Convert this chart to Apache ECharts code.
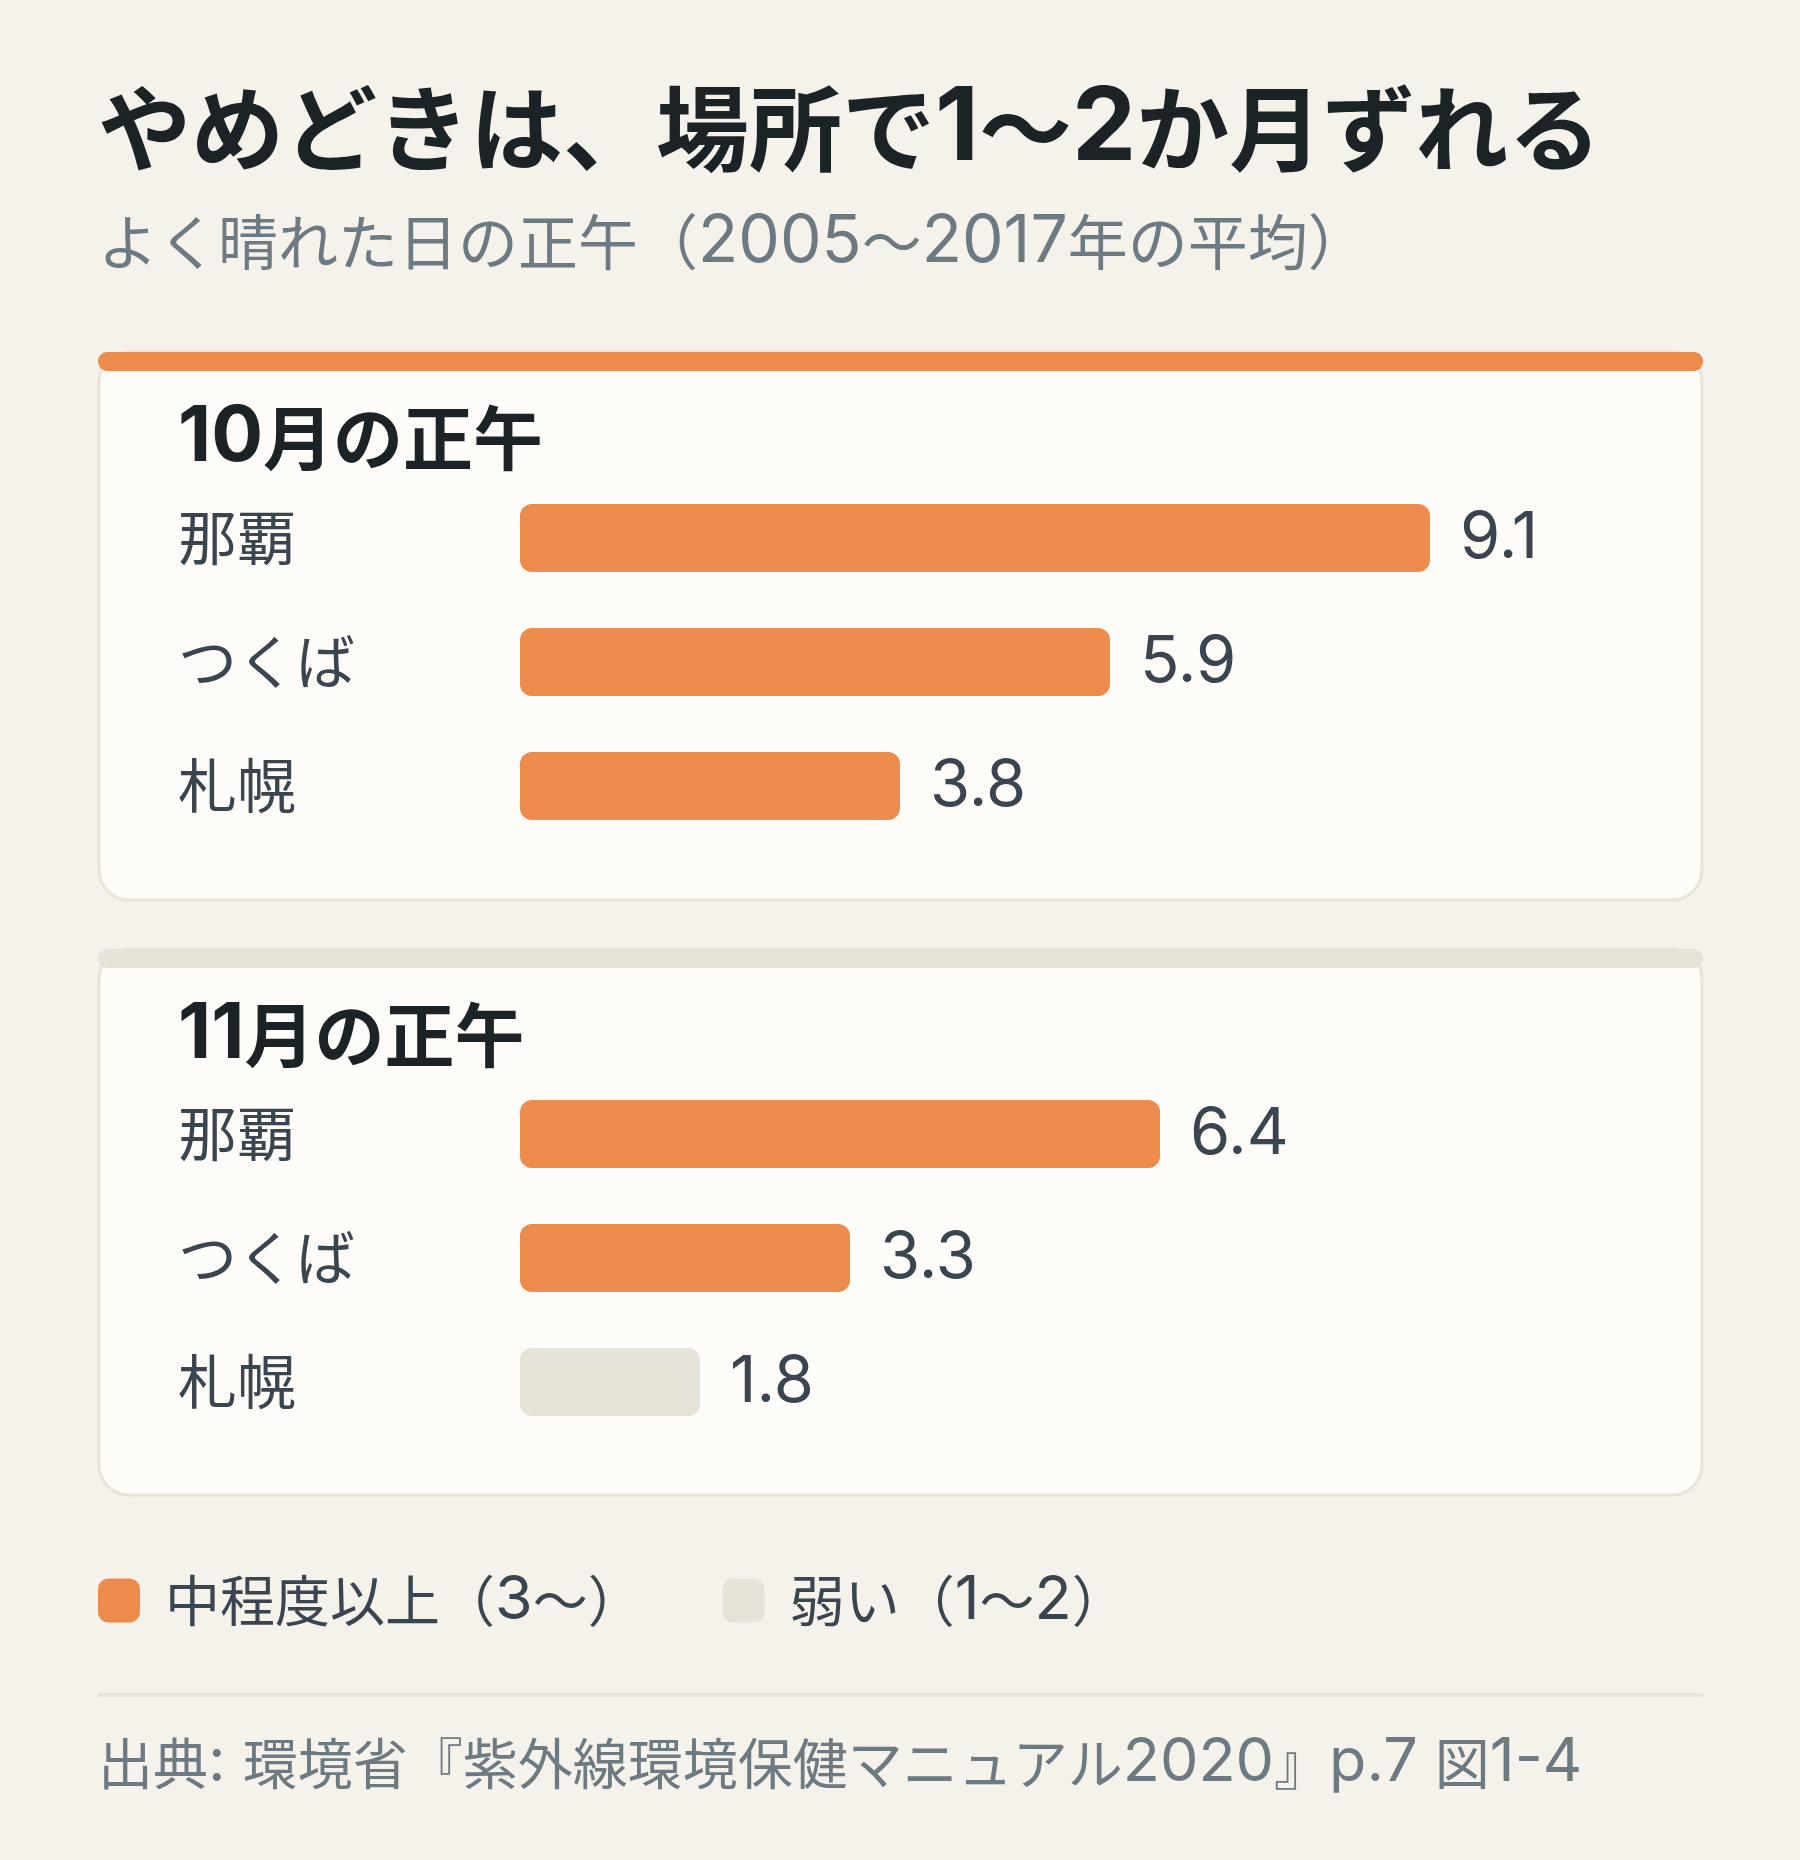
<!DOCTYPE html>
<html>
<head>
<meta charset="utf-8">
<title>やめどきは、場所で1〜2か月ずれる</title>
<script src="https://cdn.jsdelivr.net/npm/echarts@6/dist/echarts.min.js"></script>
<style>
    html, body { margin: 0; padding: 0; background: #f5f1eb; }
    #chart { width: 1800px; height: 1860px; }
</style>
</head>
<body>
<div id="chart"></div>
<script>
// data
var cities = ['那覇', 'つくば', '札幌'];
var octValues = [9.1, 5.9, 3.8];
var novValues = [6.4, 3.3, 1.8];
var levelNames = ['中程度以上（3〜）', '弱い（1〜2）'];
var levelLimit = 3;
var panelTitles = ['10月の正午', '11月の正午'];

var CJK = '"Noto Sans CJK JP", sans-serif';
var LAT = 'Inter, "Noto Sans CJK JP", sans-serif';
var LAT_SCALE = 1.1;   // latin glyphs run a bit larger than the kana
var ORANGE = '#ed8b4c';
var WEAK = '#e8e3d9';
var INK = '#3a4550';
var GREY = '#6e7a82';
var DARK = '#1b2327';

window.onload = function () {

    function strong(vals) {
        return vals.map(function (v) { return v >= levelLimit ? v : '-'; });
    }
    function weak(vals) {
        return vals.map(function (v) { return v < levelLimit ? v : '-'; });
    }

    // split a string into {l|...} latin runs and {c|...} other runs
    function tag(str) {
        return str.replace(/[\x20-\x7e]+|[^\x20-\x7e]+/g, function (run) {
            return (/[\x20-\x7e]/.test(run[0]) ? '{l|' : '{c|') + run + '}';
        });
    }
    function richStyles(size, weight, color, useFill) {
        var key = useFill ? 'fill' : 'color';
        var l = { fontFamily: LAT, fontSize: Math.round(size * LAT_SCALE), fontWeight: weight };
        var c = { fontFamily: CJK, fontSize: size, fontWeight: weight };
        l[key] = color;
        c[key] = color;
        return { l: l, c: c };
    }

    var barLabel = {
        show: true,
        position: 'right',
        distance: 30,
        fontFamily: LAT,
        fontSize: 65,
        color: INK,
        padding: [0, 0, 8, 0]
    };

    function barSeries(name, idx, data, color) {
        return {
            name: name,
            type: 'bar',
            xAxisIndex: idx,
            yAxisIndex: idx,
            data: data,
            barWidth: 68,
            barGap: '-100%',
            itemStyle: { color: color, borderRadius: 12 },
            label: barLabel,
            silent: true
        };
    }

    function txt(text, x, y, size, weight, color) {
        return {
            type: 'text',
            x: x,
            y: y,
            z: 5,
            style: {
                text: tag(text),
                rich: richStyles(size, weight, color, true),
                fill: color,
                textVerticalAlign: 'middle',
                verticalAlign: 'middle'
            }
        };
    }

    function card(top, height, barColor) {
        return [{
            type: 'rect',
            z: -2,
            shape: { x: 99, y: top, width: 1603, height: height, r: 30 },
            style: { fill: '#fdfcf8', stroke: '#e9e3d8', lineWidth: 3 }
        }, {
            type: 'rect',
            z: -1,
            shape: { x: 98, y: top, width: 1605, height: 19, r: 9 },
            style: { fill: barColor }
        }];
    }

    var yAxisBase = {
        type: 'category',
        data: cities,
        inverse: true,
        axisLine: { show: false },
        axisTick: { show: false },
        axisLabel: {
            align: 'left',
            margin: 342,
            fontFamily: CJK,
            fontSize: 59,
            color: INK,
            padding: [0, 0, 10, 0]
        }
    };

    var chart = echarts.init(document.getElementById('chart'));
    chart.setOption({
        backgroundColor: '#f5f1eb',
        animation: false,
        grid: [
            { left: 520, top: 476, width: 1000, height: 372 },
            { left: 520, top: 1072, width: 1000, height: 372 }
        ],
        xAxis: [
            { type: 'value', gridIndex: 0, min: 0, max: 10, show: false },
            { type: 'value', gridIndex: 1, min: 0, max: 10, show: false }
        ],
        yAxis: [
            Object.assign({ gridIndex: 0 }, yAxisBase),
            Object.assign({ gridIndex: 1 }, yAxisBase)
        ],
        legend: {
            left: 98,
            top: 1570,
            padding: 0,
            itemWidth: 42,
            itemHeight: 44,
            itemGap: 80,
            icon: 'roundRect',
            selectedMode: false,
            data: levelNames,
            formatter: function (name) { return tag(name); },
            textStyle: {
                fontFamily: CJK,
                fontSize: 55,
                color: INK,
                padding: [0, 0, 0, 20],
                rich: richStyles(55, 'normal', INK, false)
            }
        },
        series: [
            barSeries(levelNames[0], 0, strong(octValues), ORANGE),
            barSeries(levelNames[1], 0, weak(octValues), WEAK),
            barSeries(levelNames[0], 1, strong(novValues), ORANGE),
            barSeries(levelNames[1], 1, weak(novValues), WEAK)
        ],
        graphic: [].concat(
            card(352, 548, ORANGE),
            card(949, 546, WEAK),
            [
                txt('やめどきは、場所で1〜2か月ずれる', 98, 129, 93, 'bold', DARK),
                txt('よく晴れた日の正午（2005〜2017年の平均）', 98, 242, 60, 'normal', GREY),
                txt(panelTitles[0], 178, 438, 70, 'bold', DARK),
                txt(panelTitles[1], 178, 1035, 70, 'bold', DARK),
                {
                    type: 'line',
                    shape: { x1: 98, y1: 1695, x2: 1703, y2: 1695 },
                    style: { stroke: '#e8e3d9', lineWidth: 4 }
                },
                txt('出典: 環境省『紫外線環境保健マニュアル2020』p.7 図1-4', 98, 1763, 55, 'normal', GREY)
            ]
        )
    });
};
</script>
</body>
</html>
